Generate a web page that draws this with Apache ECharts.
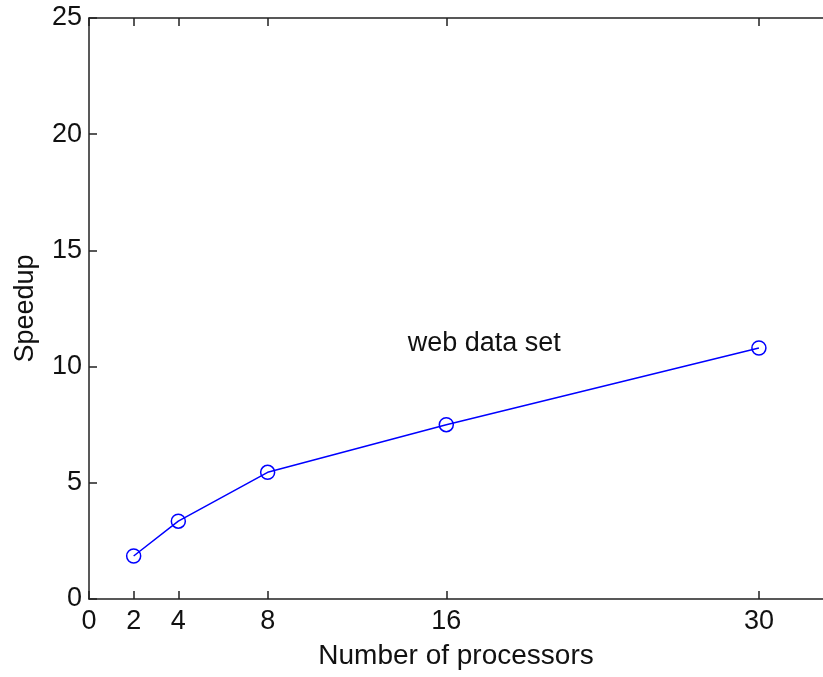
<!doctype html>
<html>
<head>
<meta charset="utf-8">
<title>Speedup</title>
<style>
  body { margin: 0; background: #fff; }
  #chart { width: 823px; height: 677px; }
</style>
</head>
<body>
<div id="chart"></div>
<script src="https://cdn.jsdelivr.net/npm/echarts@6/dist/echarts.min.js"></script>
<script>
// processors vs. speedup
var processors = [2, 4, 8, 16, 30];
var speedup = [1.85, 3.35, 5.45, 7.5, 10.8];
var xTicks = [0, 2, 4, 8, 16, 30];
var labelAt = [17.7, 11];

var font = 'Liberation Sans, Arial, sans-serif';
var xMax = 32.87; // frame runs off the right edge of the picture
var myChart = echarts.init(document.getElementById('chart'));
var option = {
    animation: false,
    grid: { left: 89, top: 18, right: 0, bottom: 78 },
    xAxis: [
        {
            type: 'value', min: 0, max: xMax, position: 'bottom',
            name: 'Number of processors', nameLocation: 'middle', nameGap: 43,
            nameTextStyle: { fontFamily: font, fontSize: 28, color: '#111' },
            axisLine: { lineStyle: { color: '#222', width: 1.5 } },
            axisTick: { inside: true, length: 8, customValues: xTicks, lineStyle: { color: '#222', width: 1.5 } },
            axisLabel: { customValues: xTicks, fontFamily: font, fontSize: 27, color: '#111', margin: 9 },
            splitLine: { show: false }
        },
        {
            type: 'value', min: 0, max: xMax, position: 'top',
            axisLine: { lineStyle: { color: '#222', width: 1.5 } },
            axisTick: { inside: true, length: 8, customValues: xTicks, lineStyle: { color: '#222', width: 1.5 } },
            axisLabel: { show: false },
            splitLine: { show: false }
        }
    ],
    yAxis: {
        type: 'value', min: 0, max: 25, interval: 5,
        name: 'Speedup', nameLocation: 'middle', nameGap: 50,
        nameTextStyle: { fontFamily: font, fontSize: 27, color: '#111' },
        axisLine: { show: true, lineStyle: { color: '#222', width: 1.5 } },
        axisTick: { show: true, inside: true, length: 8, lineStyle: { color: '#222', width: 1.5 } },
        axisLabel: { fontFamily: font, fontSize: 27, color: '#111', margin: 7 },
        splitLine: { show: false }
    },
    series: [
        {
            name: 'web data set',
            type: 'line',
            data: processors.map(function (p, i) { return [p, speedup[i]]; }),
            symbol: 'circle',
            symbolSize: 14,
            lineStyle: { color: '#0000ff', width: 1.5 },
            itemStyle: { color: 'rgba(0,0,0,0)', borderColor: '#0000ff', borderWidth: 1.5 },
            markPoint: {
                symbol: 'circle',
                symbolSize: 1,
                itemStyle: { color: 'rgba(0,0,0,0)', borderWidth: 0 },
                label: { show: true, position: 'inside', formatter: 'web data set', fontFamily: font, fontSize: 27, color: '#111' },
                data: [{ coord: labelAt }]
            }
        }
    ]
};
myChart.setOption(option);
</script>
</body>
</html>
